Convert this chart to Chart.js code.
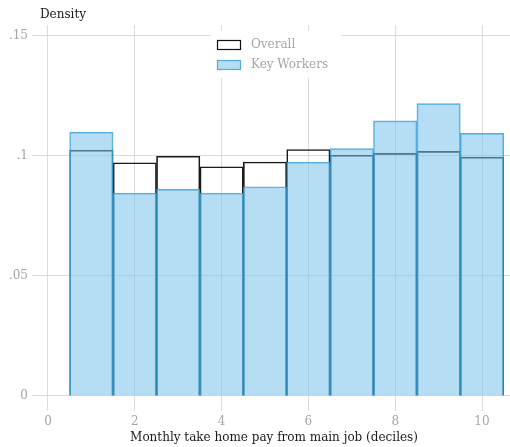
<!DOCTYPE html>
<html>
<head>
<meta charset="utf-8">
<script src="https://cdn.jsdelivr.net/npm/chart.js@4"></script>
<style>
  html, body { margin: 0; padding: 0; background: #fff; }
  #wrap { width: 510px; height: 447px; }
</style>
</head>
<body>
<div id="wrap"><canvas id="chart" width="510" height="447"></canvas></div>
<script>
// deciles 1..10
const deciles = [1, 2, 3, 4, 5, 6, 7, 8, 9, 10];
const overall = [0.1024, 0.0972, 0.0999, 0.0955, 0.0975, 0.1027, 0.1003, 0.1011, 0.1019, 0.0995];
const keyWorkers = [0.1099, 0.0845, 0.0861, 0.0845, 0.0872, 0.0974, 0.1031, 0.1146, 0.1218, 0.1094];

const yTicks = [0, 0.05, 0.1, 0.15];
const yTickLabels = ['0', '.05', '.1', '.15'];
const xTicks = [0, 2, 4, 6, 8, 10];

const seriesNames = ['Overall', 'Key Workers'];

const serif = '"DejaVu Serif", serif';
const gridColor = '#dcdcdc';
const tickGrey = '#a6a6a6';

const blueFill = 'rgba(120, 195, 235, 0.55)';
const blueLine = 'rgba(45, 155, 215, 0.8)';

// legend sits inside the plot on a white box
const insideLegend = {
    id: 'insideLegend',
    beforeDatasetsDraw(chart) {
        const ctx = chart.ctx;
        ctx.save();
        ctx.fillStyle = '#fff';
        ctx.fillRect(210, 31, 132, 47);

        // Overall swatch
        ctx.lineWidth = 1.2;
        ctx.strokeStyle = '#111';
        ctx.strokeRect(217.5, 40.5, 23, 9);
        // Key Workers swatch
        ctx.fillStyle = blueFill;
        ctx.fillRect(217.5, 60.5, 23, 9);
        ctx.strokeStyle = blueLine;
        ctx.strokeRect(217.5, 60.5, 23, 9);

        ctx.fillStyle = tickGrey;
        ctx.font = '12px ' + serif;
        ctx.textBaseline = 'middle';
        ctx.textAlign = 'left';
        ctx.fillText(seriesNames[0], 251, 45);
        ctx.fillText(seriesNames[1], 251, 65);

        // y axis title, horizontal above the axis
        ctx.fillStyle = '#1a1a1a';
        ctx.fillText('Density', 40, 15);
        ctx.restore();
    }
};

const ctx = document.getElementById('chart').getContext('2d');

new Chart(ctx, {
    type: 'bar',
    data: {
        datasets: [{
            label: seriesNames[0],
            data: deciles.map((d, i) => ({ x: d, y: overall[i] })),
            backgroundColor: 'rgba(0,0,0,0)',
            borderColor: '#1a1a1a',
            borderWidth: 1,
            order: 2
        }, {
            label: seriesNames[1],
            data: deciles.map((d, i) => ({ x: d, y: keyWorkers[i] })),
            backgroundColor: blueFill,
            borderColor: blueLine,
            borderWidth: 1,
            order: 1
        }]
    },
    options: {
        responsive: false,
        animation: false,
        grouped: false,
        barPercentage: 1,
        categoryPercentage: 1,
        layout: {
            padding: { top: 25, left: 0, right: 0, bottom: 0 }
        },
        plugins: {
            legend: { display: false },
            tooltip: { enabled: false }
        },
        scales: {
            x: {
                type: 'linear',
                offset: false,
                min: -0.2304,
                max: 10.645,
                afterBuildTicks: (scale) => {
                    scale.ticks = xTicks.map(v => ({ value: v }));
                },
                afterFit: (scale) => { scale.height = 41; },
                grid: {
                    offset: false,
                    color: gridColor,
                    lineWidth: 1,
                    drawTicks: true,
                    tickLength: 5
                },
                border: { display: false },
                ticks: {
                    color: tickGrey,
                    font: { family: serif, size: 12 },
                    padding: 4,
                    maxRotation: 0,
                    callback: (v) => String(v)
                },
                title: {
                    display: true,
                    text: 'Monthly take home pay from main job (deciles)',
                    color: '#1a1a1a',
                    font: { family: serif, size: 12 },
                    padding: { top: 0, bottom: 2 }
                }
            },
            y: {
                min: -0.004167,
                max: 0.15458,
                afterBuildTicks: (scale) => {
                    scale.ticks = yTicks.map(v => ({ value: v }));
                },
                afterFit: (scale) => { scale.width = 38; },
                grid: {
                    color: gridColor,
                    lineWidth: 1,
                    drawTicks: true,
                    tickLength: 6
                },
                border: { display: false },
                ticks: {
                    color: tickGrey,
                    font: { family: serif, size: 12 },
                    padding: 4,
                    callback: (v) => {
                        const i = yTicks.findIndex(t => Math.abs(t - v) < 1e-9);
                        return i >= 0 ? yTickLabels[i] : '';
                    }
                }
            }
        }
    },
    plugins: [insideLegend]
});
</script>
</body>
</html>
